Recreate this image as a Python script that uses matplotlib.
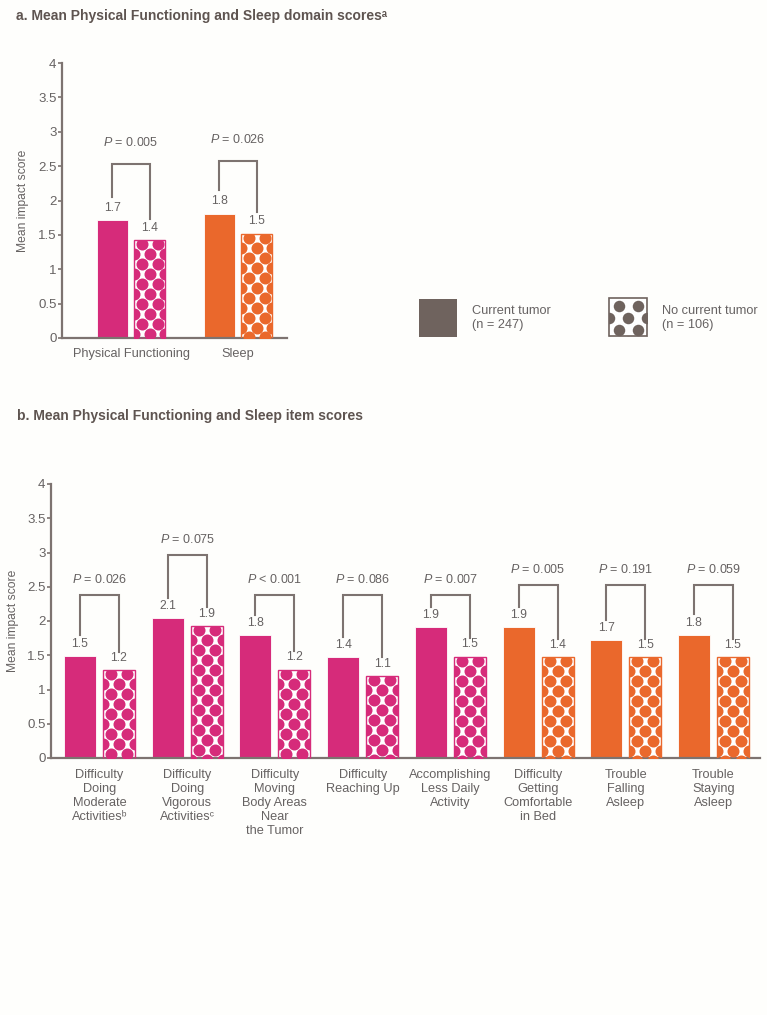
import matplotlib
matplotlib.use("Agg")
import matplotlib.pyplot as plt
from matplotlib.patches import Rectangle
import numpy as np

# ---------------- data ----------------
domain_categories = ["Physical Functioning", "Sleep"]
domain_current = [1.71, 1.81]
domain_nocurrent = [1.42, 1.52]
domain_current_labels = ["1.7", "1.8"]
domain_nocurrent_labels = ["1.4", "1.5"]
domain_pvalues = ["= 0.005", "= 0.026"]
domain_groups = ["pf", "sleep"]

item_categories = [
    "Difficulty\nDoing\nModerate\nActivities\u1d47",
    "Difficulty\nDoing\nVigorous\nActivities\u1d9c",
    "Difficulty\nMoving\nBody Areas\nNear\nthe Tumor",
    "Difficulty\nReaching Up",
    "Accomplishing\nLess Daily\nActivity",
    "Difficulty\nGetting\nComfortable\nin Bed",
    "Trouble\nFalling\nAsleep",
    "Trouble\nStaying\nAsleep",
]
item_current = [1.49, 2.04, 1.79, 1.47, 1.91, 1.91, 1.72, 1.80]
item_nocurrent = [1.28, 1.93, 1.29, 1.20, 1.48, 1.47, 1.47, 1.47]
item_current_labels = ["1.5", "2.1", "1.8", "1.4", "1.9", "1.9", "1.7", "1.8"]
item_nocurrent_labels = ["1.2", "1.9", "1.2", "1.1", "1.5", "1.4", "1.5", "1.5"]
item_pvalues = ["= 0.026", "= 0.075", "< 0.001", "= 0.086", "= 0.007",
                "= 0.005", "= 0.191", "= 0.059"]
item_groups = ["pf", "pf", "pf", "pf", "pf", "sleep", "sleep", "sleep"]

legend_labels = ["Current tumor\n(n = 247)", "No current tumor\n(n = 106)"]

# ---------------- style ----------------
W, H, DPI = 767, 1015, 100
MAGENTA = "#d62b7a"
ORANGE = "#ea682c"
GROUP_COLORS = {"pf": MAGENTA, "sleep": ORANGE}
AXIS_C = "#7d7370"
TEXT_C = "#666262"
TITLE_C = "#5e5450"
LEG_C = "#6f635e"
BG = "#fefefc"

plt.rcParams["font.family"] = ["Liberation Sans", "DejaVu Sans"]
plt.rcParams["mathtext.fontset"] = "custom"
plt.rcParams["mathtext.rm"] = "Liberation Sans"
plt.rcParams["mathtext.it"] = "Liberation Sans:italic"
plt.rcParams["mathtext.bf"] = "Liberation Sans:bold"

fig = plt.figure(figsize=(W / DPI, H / DPI), dpi=DPI, facecolor=BG)


def fig_axes(left_px, right_px, top_px, bottom_px):
    return fig.add_axes([left_px / W, 1 - bottom_px / H,
                         (right_px - left_px) / W, (bottom_px - top_px) / H])


def polka(ax, bar, color, dot_px=12.0, dy_px=10.0, top_off=4.0):
    """Fill bar patch with a staggered pattern of dots (clipped to the bar)."""
    x, y = bar.get_x(), bar.get_y()
    w, h = bar.get_width(), bar.get_height()
    (x0, y0), (x1, y1) = ax.transData.transform([(x, y), (x + w, y + h)])
    wp = x1 - x0
    pts = []
    yy = y1 - top_off
    r = 0
    while yy > y0 - dot_px:
        fr = [0.25, 0.75] if r % 2 == 0 else [0.0, 0.5, 1.0]
        for f in fr:
            pts.append((x0 + f * wp, yy))
        yy -= dy_px
        r += 1
    pts = ax.transData.inverted().transform(pts)
    s = (dot_px * 72.0 / DPI) ** 2
    sc = ax.scatter(pts[:, 0], pts[:, 1], s=s, color=color, linewidths=0,
                    zorder=3, clip_on=True)
    sc.set_clip_path(bar)


def style_axes(ax):
    ax.set_facecolor("none")
    for sp in ["top", "right"]:
        ax.spines[sp].set_visible(False)
    for sp in ["left", "bottom"]:
        ax.spines[sp].set_color(AXIS_C)
        ax.spines[sp].set_linewidth(1.6)
    ax.set_ylim(0, 4)
    ax.set_yticks(np.arange(0, 4.01, 0.5))
    ax.set_yticklabels([f"{v:g}" for v in np.arange(0, 4.01, 0.5)])
    ax.tick_params(axis="y", length=3, width=1.2, color=AXIS_C,
                   labelcolor=TEXT_C, labelsize=9.5, pad=1)
    ax.tick_params(axis="x", length=0, labelcolor=TEXT_C, labelsize=9.2)
    ax.set_ylabel("Mean impact score", color=TEXT_C, fontsize=8.7)


def draw_panel(ax, cats, cur, nc, cur_lab, nc_lab, pvals, groups, offset, width,
               tops, leg_l, leg_r, text_gap, xpad):
    x = np.arange(len(cats))
    for i in range(len(cats)):
        c = GROUP_COLORS[groups[i]]
        ax.bar(x[i] - offset, cur[i], width, color=c, edgecolor="white",
               linewidth=0.6, zorder=2)
        b = ax.bar(x[i] + offset, nc[i], width, color="white", edgecolor="none",
                   linewidth=0, zorder=2)[0]
        polka(ax, b, c)
        ax.bar(x[i] + offset, nc[i], width, fill=False, edgecolor=c,
               linewidth=1.0, zorder=4)
        ax.text(x[i] - offset, cur[i] + 0.09, cur_lab[i], ha="center",
                va="bottom", fontsize=8.7, color=TEXT_C)
        ax.text(x[i] + offset, nc[i] + 0.09, nc_lab[i], ha="center",
                va="bottom", fontsize=8.7, color=TEXT_C)
        top = tops[i]
        ax.plot([x[i] - offset, x[i] - offset, x[i] + offset, x[i] + offset],
                [cur[i] + leg_l, top, top, nc[i] + leg_r],
                color=AXIS_C, lw=1.5, zorder=5, solid_joinstyle="miter")
        ax.text(x[i], top + text_gap, "$\\mathit{P}$ " + pvals[i], ha="center",
                va="center", fontsize=9, color=TEXT_C)
    ax.set_xticks(x)
    ax.set_xticklabels(cats, linespacing=1.22)
    ax.tick_params(axis="x", pad=xpad)


# ---------------- panel a ----------------
fig.text(16 / W, 1 - 16 / H,
         "a. Mean Physical Functioning and Sleep domain scores\u1d43",
         fontsize=10, fontweight="bold", color=TITLE_C, va="center", ha="left")
axa = fig_axes(62, 287, 63, 338)
style_axes(axa)
axa.yaxis.set_label_coords(-0.147, 0.5)
axa.set_xlim(-0.645, 1.458)
draw_panel(axa, domain_categories, domain_current, domain_nocurrent,
           domain_current_labels, domain_nocurrent_labels, domain_pvalues,
           domain_groups, offset=0.177, width=0.29, tops=[2.53, 2.58],
           leg_l=0.34, leg_r=0.31, text_gap=0.31, xpad=7)

# ---------------- panel b ----------------
fig.text(17 / W, 1 - 416 / H,
         "b. Mean Physical Functioning and Sleep item scores",
         fontsize=10, fontweight="bold", color=TITLE_C, va="center", ha="left")
axb = fig_axes(51, 760, 484, 758)
style_axes(axb)
axb.yaxis.set_label_coords(-0.045, 0.5)
axb.set_xlim(-0.553, 7.53)
item_tops = [2.38, 2.97, 2.38, 2.38, 2.38, 2.53, 2.53, 2.53]
draw_panel(axb, item_categories, item_current, item_nocurrent,
           item_current_labels, item_nocurrent_labels, item_pvalues,
           item_groups, offset=0.222, width=0.365, tops=item_tops,
           leg_l=0.3, leg_r=0.27, text_gap=0.22, xpad=8)

# ---------------- legend ----------------
leg = fig.add_axes([0, 0, 1, 1])
leg.set_xlim(0, W)
leg.set_ylim(H, 0)
leg.axis("off")
leg.set_facecolor("none")
leg.add_patch(Rectangle((419, 299), 38, 38, color=LEG_C, lw=0))
sq = Rectangle((609, 298), 38, 38, facecolor="white", edgecolor="none", lw=0)
leg.add_patch(sq)
pts = []
for r, yy in enumerate([306, 318, 330, 342]):
    fr = [0.25, 0.75] if r % 2 == 0 else [0.0, 0.5, 1.0]
    for f in fr:
        pts.append((609 + f * 38, yy))
pts = np.array(pts)
sc = leg.scatter(pts[:, 0], pts[:, 1], s=(11.5 * 72 / DPI) ** 2, color=LEG_C,
                 linewidths=0)
sc.set_clip_path(sq)
leg.add_patch(Rectangle((609, 298), 38, 38, fill=False, edgecolor=LEG_C, lw=1.2))
leg.text(472, 318, legend_labels[0], fontsize=9.2, color=TEXT_C, va="center",
         ha="left", linespacing=1.2)
leg.text(662, 318, legend_labels[1], fontsize=9.2, color=TEXT_C, va="center",
         ha="left", linespacing=1.2)

fig.savefig("out.png", dpi=DPI, facecolor=BG)
